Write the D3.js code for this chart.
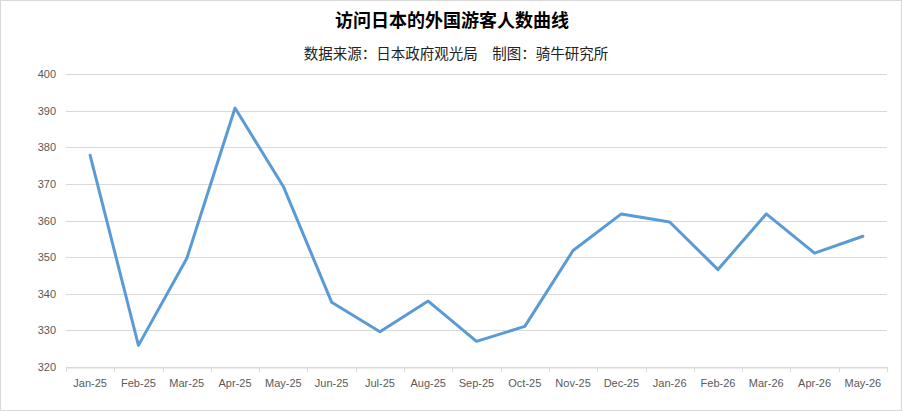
<!DOCTYPE html>
<html>
<head>
<meta charset="utf-8">
<script src="https://cdn.jsdelivr.net/npm/d3@7"></script>
<style>
  body { margin: 0; background: #fff; }
  text { font-family: "Liberation Sans", "Noto Sans CJK SC", sans-serif; }
</style>
</head>
<body>
<div id="chart"></div>
<script>
// data
const months = ["Jan-25","Feb-25","Mar-25","Apr-25","May-25","Jun-25","Jul-25","Aug-25","Sep-25",
                "Oct-25","Nov-25","Dec-25","Jan-26","Feb-26","Mar-26","Apr-26","May-26"];
const visitors = [377.8, 325.9, 349.6, 390.7, 369.3, 337.7, 329.6, 338.0, 327.0,
                  331.1, 351.8, 361.8, 359.6, 346.6, 361.8, 351.1, 355.7];
const yTicks = [320, 330, 340, 350, 360, 370, 380, 390, 400];
const title = "访问日本的外国游客人数曲线";
const subtitle = "数据来源：日本政府观光局　制图：骑牛研究所";

const W = 903, H = 411;
const margin = {top: 74, left: 66, right: 16, bottom: 44};
const width = W - margin.left - margin.right;
const height = H - margin.top - margin.bottom;

const svg = d3.select("#chart").append("svg")
    .attr("width", W)
    .attr("height", H);

// outer frame
svg.append("rect")
    .attr("x", 0.5).attr("y", 0.5)
    .attr("width", W - 2).attr("height", H - 1)
    .attr("fill", "#fff")
    .attr("stroke", "#d9d9d9");

svg.append("text")
    .attr("x", 452).attr("y", 27)
    .attr("text-anchor", "middle")
    .attr("font-family", "'Noto Sans CJK SC', sans-serif")
    .attr("font-size", 18)
    .attr("font-weight", "bold")
    .attr("fill", "#000")
    .text(title);

svg.append("text")
    .attr("x", 456).attr("y", 59)
    .attr("text-anchor", "middle")
    .attr("font-family", "'Noto Sans CJK SC', sans-serif")
    .attr("font-size", 14.5)
    .attr("fill", "#222")
    .text(subtitle);

const g = svg.append("g")
    .attr("transform", `translate(${margin.left},${margin.top})`);

const xScale = d3.scaleBand()
    .domain(months)
    .range([0, width]);

const yScale = d3.scaleLinear()
    .domain([320, 400])
    .range([height, 0]);

// gridlines
g.append("g")
    .selectAll("line")
    .data(yTicks)
    .join("line")
    .attr("x1", 0).attr("x2", width)
    .attr("y1", d => Math.round(yScale(d)) + 0.5)
    .attr("y2", d => Math.round(yScale(d)) + 0.5)
    .attr("stroke", "#d9d9d9");

// y axis labels
const yAxis = d3.axisLeft(yScale).tickValues(yTicks).tickSize(0).tickPadding(10);
g.append("g")
    .call(yAxis)
    .call(a => a.select(".domain").remove())
    .selectAll("text")
    .attr("font-size", 11)
    .attr("fill", "#595959");

// x axis
const xAxis = d3.axisBottom(xScale).tickSize(0).tickPadding(12);
const xg = g.append("g")
    .attr("transform", `translate(0,${Math.round(height) + 0.5})`)
    .call(xAxis);
xg.select(".domain").attr("stroke", "#d9d9d9");
xg.selectAll("text").attr("font-size", 11).attr("fill", "#595959");

// tick marks between categories
g.append("g")
    .selectAll("line")
    .data(months.concat(["end"]))
    .join("line")
    .attr("x1", (d, i) => Math.round(i * xScale.step()) + 0.5)
    .attr("x2", (d, i) => Math.round(i * xScale.step()) + 0.5)
    .attr("y1", Math.round(height))
    .attr("y2", Math.round(height) + 5)
    .attr("stroke", "#d9d9d9");

const line = d3.line()
    .x((d, i) => xScale(months[i]) + xScale.bandwidth() / 2)
    .y(d => yScale(d));

g.append("path")
    .datum(visitors)
    .attr("d", line)
    .attr("fill", "none")
    .attr("stroke", "#5b9bd5")
    .attr("stroke-width", 3)
    .attr("stroke-linejoin", "round")
    .attr("stroke-linecap", "round");
</script>
</body>
</html>
